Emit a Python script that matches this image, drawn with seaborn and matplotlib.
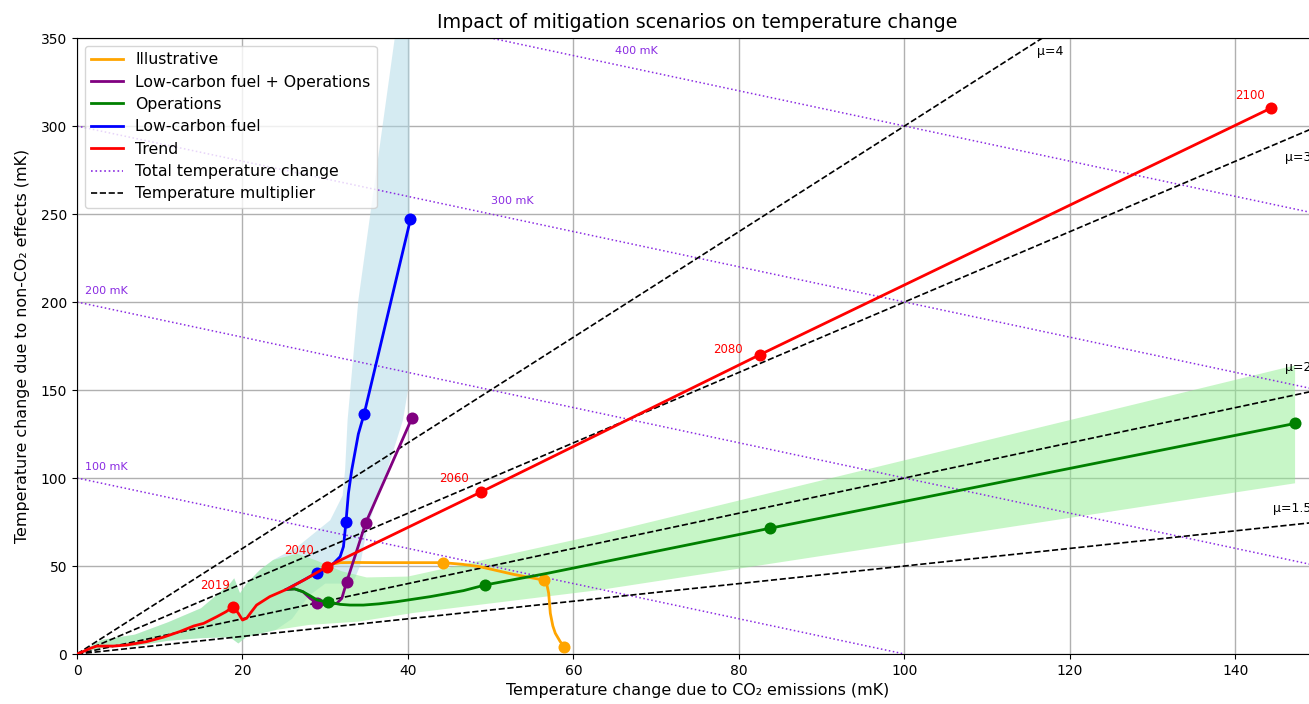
import numpy as np
import pandas as pd
import matplotlib
matplotlib.use("Agg")
import matplotlib.pyplot as plt
from matplotlib.lines import Line2D
import seaborn as sns

# ---------------- data ----------------
# shared historical path (ends at the branching point)
hist_x = [0, 0.8, 1.6, 2.4, 4.4, 6.0, 8.4, 10.4, 12.4, 14.1, 15.3, 16.9, 18.0, 18.9,
          19.5, 20.0, 20.5, 21.0, 21.7, 23.3, 25.3]
hist_y = [0, 1.5, 3.2, 4.5, 4.5, 5.1, 7.0, 9.5, 12.7, 15.9, 17.4, 21.2, 24.0, 26.9,
          23.1, 19.3, 20.3, 23.5, 27.8, 32.6, 36.7]

# Trend
trend_x = [25.3, 27.5, 30.2, 48.8, 82.5, 144.3]
trend_y = [36.7, 42.2, 49.6, 92.0, 170.0, 310.2]
trend_mk_x = [18.9, 30.2, 48.8, 82.5, 144.3]
trend_mk_y = [26.9, 49.6, 92.0, 170.0, 310.2]
trend_years = ["2019", "2040", "2060", "2080", "2100"]

# Illustrative
illu_x = [30.2, 31.0, 31.8, 33.5, 36.6, 40.0, 44.2, 46.5, 48.7, 52.7, 56.4, 56.8,
          57.0, 57.2, 57.5, 57.8, 58.4, 58.9]
illu_y = [49.6, 51.2, 51.9, 52.0, 51.9, 51.9, 51.9, 51.0, 49.6, 45.3, 42.0, 39.0,
          34.5, 23.1, 16.0, 11.8, 7.0, 4.2]
illu_mk_x = [44.2, 56.4, 58.9]
illu_mk_y = [51.9, 42.0, 4.2]

# Low-carbon fuel + Operations
lcfo_x = [25.3, 26.3, 27.3, 28.2, 29.0, 30.2, 31.4, 32.0, 32.6, 34.9, 40.5]
lcfo_y = [36.7, 37.0, 35.4, 31.5, 29.0, 27.8, 28.8, 31.6, 41.1, 74.6, 134.3]
lcfo_mk_x = [29.0, 32.6, 34.9, 40.5]
lcfo_mk_y = [29.0, 41.1, 74.6, 134.3]

# Operations
ops_x = [25.3, 26.3, 27.3, 28.2, 29.0, 30.3, 31.8, 33.0, 34.6, 36.5, 38.6, 42.7,
         46.7, 49.3, 56.8, 63.2, 83.8, 147.2]
ops_y = [36.7, 37.0, 35.4, 33.0, 30.7, 29.5, 28.2, 27.8, 27.8, 28.5, 29.7, 32.6,
         36.0, 39.2, 45.8, 51.9, 71.5, 131.0]
ops_mk_x = [30.3, 49.3, 83.8, 147.2]
ops_mk_y = [29.5, 39.2, 71.5, 131.0]

# Low-carbon fuel
lcf_x = [25.3, 27.0, 29.0, 30.6, 31.8, 32.2, 32.5, 32.8, 33.2, 34.0, 34.7, 40.3]
lcf_y = [36.7, 41.0, 46.2, 49.6, 55.3, 61.0, 74.8, 91.3, 104.5, 125.0, 136.4, 247.0]
lcf_mk_x = [29.0, 32.5, 34.7, 40.3]
lcf_mk_y = [46.2, 74.8, 136.4, 247.0]

# uncertainty band, low-carbon fuel (upper/left edge and lower/right edge)
lcf_band_up_x = [0, 3, 7, 11, 15, 18.5, 19.0, 19.7, 20.5, 22.1, 23.7, 26.6, 30.6,
                 32.1, 32.4, 32.7, 34.0, 38.4, 40.0]
lcf_band_up_y = [0, 8, 11, 18, 26, 40, 43, 34.5, 40, 47.7, 53.4, 60.8, 76,
                 90, 104.5, 133, 201, 350, 360]
lcf_band_lo_x = [0, 3, 7, 11, 15, 18.5, 19.5, 20.5, 24, 26, 28, 30, 32, 33.5, 34.2,
                 35.0, 36.3, 37.5, 39.4, 40.0, 40.2, 40.2]
lcf_band_lo_y = [0, 3.4, 4.5, 7.5, 9, 9.5, 6, 9.8, 13.6, 20, 33, 40, 40, 42, 50,
                 70, 89, 104.5, 133, 150, 250, 360]

# uncertainty band, operations
ops_band_up_x = [0, 3, 7, 11, 15, 18.5, 19.0, 19.7, 20.5, 22.1, 23.7, 26.6, 29, 32,
                 35, 40, 63.2, 147.2]
ops_band_up_y = [0, 8, 11, 18, 26, 40, 43, 34.5, 40, 47.7, 53.4, 57, 53, 47,
                 43.5, 44, 68, 164]
ops_band_lo_x = [0, 3, 7, 11, 15, 18.5, 19.5, 20.5, 24, 28, 34, 40.6, 63.2, 147.2]
ops_band_lo_y = [0, 3.4, 4.5, 7.5, 9, 9.5, 6, 9.8, 13.6, 16.5, 18.4, 23.3, 36.4, 97]

# iso-lines
total_levels = [100, 200, 300, 400]          # mK
multipliers = [1.5, 2, 3, 4]

# ---------------- styles ----------------
C_ILLU, C_LCFO, C_OPS, C_LCF, C_TREND = "orange", "purple", "green", "blue", "red"
C_TOT = "blueviolet"
XMAX, YMAX = 150, 350
W, H = 1309, 704

fig = plt.figure(figsize=(W / 100, H / 100), dpi=100)
ax = fig.add_axes([77 / W, 50 / H, XMAX * 8.275 / W, 616 / H])

# bands
ax.fill(lcf_band_up_x + lcf_band_lo_x[::-1], lcf_band_up_y + lcf_band_lo_y[::-1],
        color="lightblue", alpha=0.5, lw=0, zorder=1)
ax.fill(ops_band_up_x + ops_band_lo_x[::-1], ops_band_up_y + ops_band_lo_y[::-1],
        color="lightgreen", alpha=0.5, lw=0, zorder=1)

# total temperature iso-lines
tot_text_x = [1, 1, 50, 65]
for T, tx in zip(total_levels, tot_text_x):
    xs = np.array([0, T], dtype=float)
    ax.plot(xs, T - xs, ls=":", color=C_TOT, lw=1.1, zorder=2)
    ax.text(tx, T - tx + 7.4, f"{T} mK", color=C_TOT, fontsize=8, ha="left", va="center")

# multiplier lines
mu_text_pos = [(144.5, 82.4), (146, 162.5), (146, 282), (116, 342.6)]
for mu, (tx, ty) in zip(multipliers, mu_text_pos):
    xs = np.array([0, XMAX * 1.1])
    ax.plot(xs, (mu - 1) * xs, ls="--", color="black", lw=1.2, zorder=2)
    ax.text(tx, ty, f"μ={mu:g}", color="black", fontsize=9, ha="left", va="center")


def draw(xs, ys, mx, my, color, z):
    sns.lineplot(x=xs, y=ys, sort=False, estimator=None, color=color, lw=2,
                 ax=ax, zorder=z)
    sns.scatterplot(x=mx, y=my, color=color, s=75, linewidth=0, ax=ax, zorder=z + 0.5)


draw(illu_x, illu_y, illu_mk_x, illu_mk_y, C_ILLU, 3)
draw(lcfo_x, lcfo_y, lcfo_mk_x, lcfo_mk_y, C_LCFO, 4)
draw(ops_x, ops_y, ops_mk_x, ops_mk_y, C_OPS, 5)
draw(lcf_x, lcf_y, lcf_mk_x, lcf_mk_y, C_LCF, 6)
draw(hist_x + trend_x[1:], hist_y + trend_y[1:], trend_mk_x, trend_mk_y, C_TREND, 7)

year_offsets = [(-13, 15), (-20, 12), (-19, 10), (-23, 4), (-15, 9)]
for yr, x, y, off in zip(trend_years, trend_mk_x, trend_mk_y, year_offsets):
    ax.annotate(yr, (x, y), xytext=off, textcoords="offset points", color="red",
                fontsize=8.5, ha="center", va="center")

ax.set_xlim(0, XMAX)
ax.set_ylim(0, YMAX)
ax.grid(True, color="#b0b0b0", lw=1.0, zorder=0)
ax.set_axisbelow(True)
ax.set_xlabel("Temperature change due to CO₂ emissions (mK)", fontsize=11.4)
ax.set_ylabel("Temperature change due to non-CO₂ effects (mK)", fontsize=11.4, labelpad=8)
ax.set_title("Impact of mitigation scenarios on temperature change", fontsize=13.7, pad=7)

handles = [
    Line2D([], [], color=C_ILLU, lw=2, label="Illustrative"),
    Line2D([], [], color=C_LCFO, lw=2, label="Low-carbon fuel + Operations"),
    Line2D([], [], color=C_OPS, lw=2, label="Operations"),
    Line2D([], [], color=C_LCF, lw=2, label="Low-carbon fuel"),
    Line2D([], [], color=C_TREND, lw=2, label="Trend"),
    Line2D([], [], color=C_TOT, lw=1.2, ls=":", label="Total temperature change"),
    Line2D([], [], color="black", lw=1.2, ls="--", label="Temperature multiplier"),
]
ax.legend(handles=handles, loc="upper left", fontsize=11.3, labelspacing=0.47)

fig.savefig("out.png", dpi=100)
